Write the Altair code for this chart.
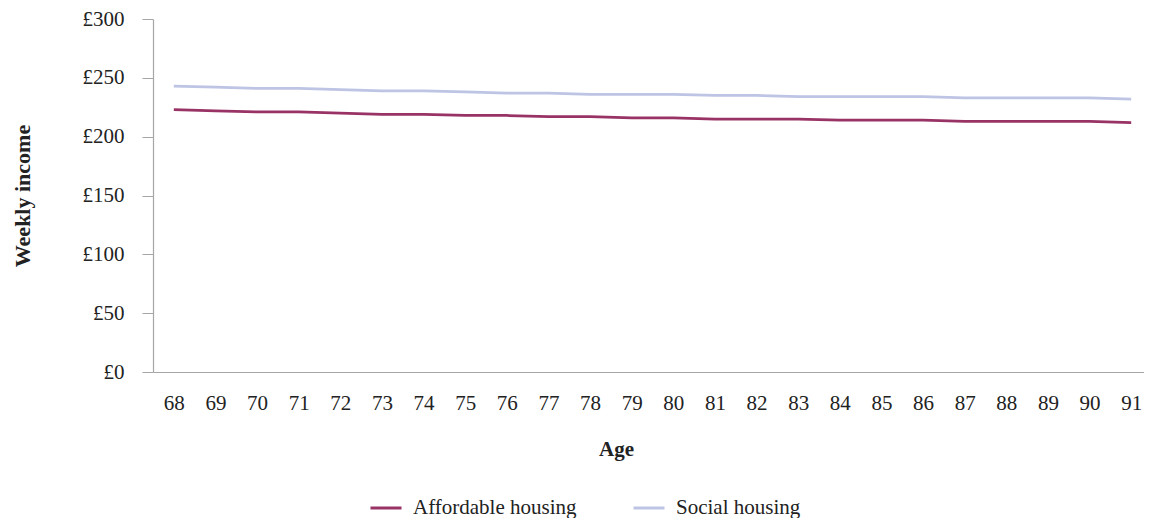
import altair as alt
import pandas as pd

ages = list(range(68, 92))
affordable = [223, 222, 221, 221, 220, 219, 219, 218, 218, 217, 217, 216,
              216, 215, 215, 215, 214, 214, 214, 213, 213, 213, 213, 212]
social = [243, 242, 241, 241, 240, 239, 239, 238, 237, 237, 236, 236,
          236, 235, 235, 234, 234, 234, 234, 233, 233, 233, 233, 232]
series_names = ["Affordable housing", "Social housing"]
series_colors = ["#993366", "#bdc4e4"]
y_ticks = [0, 50, 100, 150, 200, 250, 300]

rows = []
for name, vals in zip(series_names, [affordable, social]):
    for a, v in zip(ages, vals):
        rows.append({"Age": str(a), "Income": v, "Series": name})
df = pd.DataFrame(rows)

FONT = "Liberation Serif"
W, H = 991, 353

chart = alt.Chart(df).mark_line(strokeWidth=2.75).encode(
    x=alt.X("Age:O", sort=[str(a) for a in ages],
            scale=alt.Scale(type="point", padding=0.5, range=[0, 999]),
            axis=alt.Axis(title="Age", labelAngle=0, ticks=False, labelPadding=20,
                          titleX=463, titleY=77, titleBaseline="middle")),
    y=alt.Y("Income:Q", scale=alt.Scale(domain=[0, 300], nice=False),
            axis=alt.Axis(title="Weekly income", values=y_ticks,
                          labelExpr="'£' + datum.value",
                          grid=False, tickSize=11, labelPadding=18,
                          titleX=-131, titleY=H / 2, titleBaseline="middle",
                          titleAngle=-90, titleFontSize=22)),
    color=alt.Color("Series:N",
                    scale=alt.Scale(domain=series_names, range=series_colors),
                    legend=alt.Legend(title=None, orient="none", direction="horizontal",
                                      legendX=216, legendY=472,
                                      symbolType="stroke", symbolSize=961,
                                      symbolStrokeWidth=3, labelOffset=10,
                                      columnPadding=50, labelFontSize=21,
                                      labelLimit=400,
                                      labelFont=FONT, labelColor="#222222")),
).properties(
    width=W, height=H,
    padding={"left": 145, "top": 11, "right": 0, "bottom": 146},
    autosize=alt.AutoSizeParams(type="none"),
).configure_view(
    stroke=None
).configure_axis(
    domainColor="#a6a6a6", tickColor="#a6a6a6", labelFont=FONT, titleFont=FONT,
    labelFontSize=21, titleFontSize=21, labelColor="#222222", titleColor="#222222",
    titleFontWeight="bold", domainWidth=1.2
)

chart.save("out.html", embed_options={"renderer": "svg", "actions": False})
